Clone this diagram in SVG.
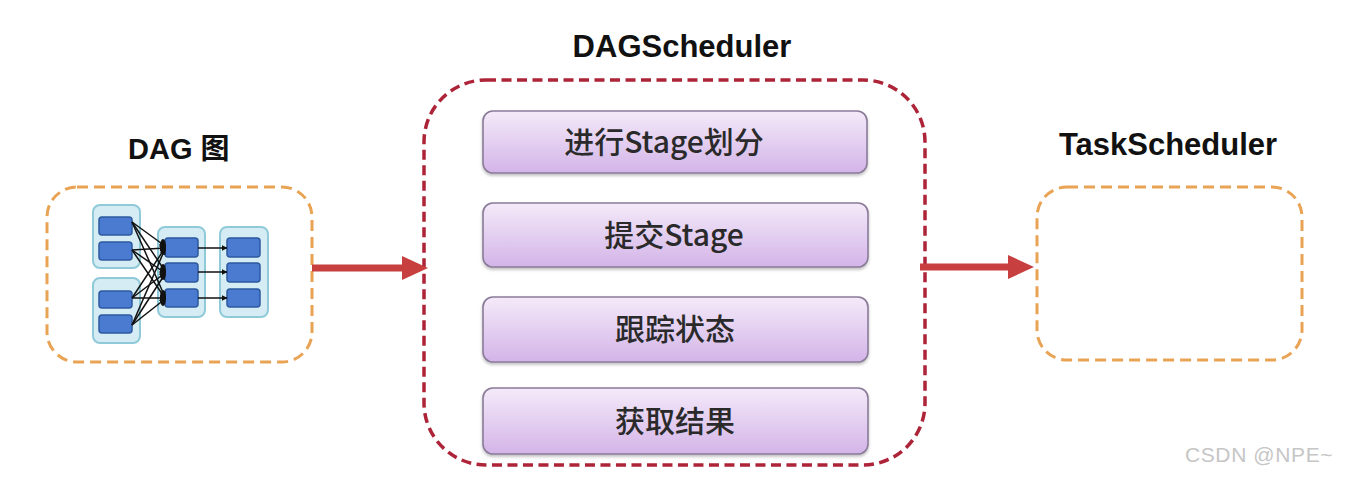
<svg xmlns="http://www.w3.org/2000/svg" width="1346" height="478" viewBox="0 0 1346 478">
<style>
.title{font-family:"Liberation Sans","Noto Sans CJK SC",Arial,sans-serif;font-weight:bold;fill:#111;}
.step{font-family:"Noto Sans CJK SC","Noto Sans",sans-serif;font-weight:500;font-size:30px;fill:#2a2a2a;text-anchor:middle;}
.orange{fill:#fff;stroke:#e9a354;stroke-width:3;stroke-dasharray:11 6;}
.red{fill:#fff;stroke:#ad2338;stroke-width:3.5;stroke-dasharray:10 5.5;}
.stepbox{fill:url(#pg);stroke:#8a7b99;stroke-width:1.6;}
.grp{fill:#d5ecf4;stroke:#8fcad9;stroke-width:2;}
.blk{fill:#4a7bd0;stroke:#2d5a9e;stroke-width:1.5;}
.thin{stroke:#111;stroke-width:1.5;fill:none;}
.big{stroke:#c7403f;stroke-width:7;fill:none;}
.head{fill:#c7403f;}
.wm{font-family:"Liberation Sans",Arial,sans-serif;font-size:21px;fill:#c6c6c6;letter-spacing:0.6px;}
</style>
<defs>
<linearGradient id="pg" x1="0" y1="0" x2="0" y2="1">
<stop offset="0" stop-color="#f4eaf9"/>
<stop offset="1" stop-color="#d3b4e8"/>
</linearGradient>
<marker id="sa" viewBox="0 0 10 10" refX="9" refY="5" markerWidth="6" markerHeight="6" orient="auto" markerUnits="userSpaceOnUse">
<path d="M0,0 L10,5 L0,10 z" fill="#111"/>
</marker>
<filter id="sh" x="-5%" y="-10%" width="110%" height="130%">
<feDropShadow dx="0" dy="2" stdDeviation="1.5" flood-color="#000" flood-opacity="0.25"/>
</filter>
</defs>
<rect width="1346" height="478" fill="#fff"/>

<g id="dag">
<text class="title" x="128" y="159" font-size="29">DAG 图</text>
<rect class="orange" x="47" y="187" width="265" height="175" rx="30"/>
<rect class="grp" x="93" y="205" width="47" height="63" rx="7"/>
<rect class="grp" x="93" y="278" width="47" height="65" rx="7"/>
<rect class="grp" x="158" y="227" width="47" height="90" rx="7"/>
<rect class="grp" x="220" y="227" width="48" height="90" rx="7"/>
<rect class="blk" x="99" y="217" width="33" height="18" rx="3"/>
<rect class="blk" x="99" y="242" width="33" height="18" rx="3"/>
<rect class="blk" x="99" y="291" width="33" height="17" rx="3"/>
<rect class="blk" x="99" y="315" width="33" height="18" rx="3"/>
<rect class="blk" x="165" y="238" width="33" height="19" rx="3"/>
<rect class="blk" x="165" y="263" width="33" height="19" rx="3"/>
<rect class="blk" x="165" y="289" width="33" height="18" rx="3"/>
<rect class="blk" x="227" y="238" width="33" height="19" rx="3"/>
<rect class="blk" x="227" y="263" width="33" height="19" rx="3"/>
<rect class="blk" x="227" y="289" width="33" height="18" rx="3"/>
</g>

<g id="dagscheduler">
<text class="title" x="682" y="57" font-size="31" text-anchor="middle">DAGScheduler</text>
<rect class="red" x="424" y="80" width="501" height="385" rx="62"/>
</g>
<g id="step1">
<rect class="stepbox" x="483" y="111" width="384" height="62" rx="10" filter="url(#sh)"/>
<text class="step" x="664" y="153">进行Stage划分</text>
</g>
<g id="step2">
<rect class="stepbox" x="483" y="203" width="385" height="64" rx="10" filter="url(#sh)"/>
<text class="step" x="674" y="246">提交Stage</text>
</g>
<g id="step3">
<rect class="stepbox" x="483" y="297" width="385" height="65" rx="10" filter="url(#sh)"/>
<text class="step" x="675" y="340">跟踪状态</text>
</g>
<g id="step4">
<rect class="stepbox" x="483" y="388" width="385" height="66" rx="10" filter="url(#sh)"/>
<text class="step" x="675" y="432">获取结果</text>
</g>

<g id="taskscheduler">
<text class="title" x="1168" y="155" font-size="31" text-anchor="middle">TaskScheduler</text>
<rect class="orange" x="1037" y="187" width="265" height="173" rx="30"/>
</g>

<g id="connectors">
<line class="thin" x1="132" y1="222" x2="165" y2="246" marker-end="url(#sa)"/>
<line class="thin" x1="132" y1="222" x2="165" y2="271" marker-end="url(#sa)"/>
<line class="thin" x1="132" y1="222" x2="165" y2="297" marker-end="url(#sa)"/>
<line class="thin" x1="132" y1="250" x2="165" y2="248" marker-end="url(#sa)"/>
<line class="thin" x1="132" y1="250" x2="165" y2="273" marker-end="url(#sa)"/>
<line class="thin" x1="132" y1="250" x2="165" y2="298" marker-end="url(#sa)"/>
<line class="thin" x1="132" y1="298" x2="165" y2="248" marker-end="url(#sa)"/>
<line class="thin" x1="132" y1="298" x2="165" y2="273" marker-end="url(#sa)"/>
<line class="thin" x1="132" y1="298" x2="165" y2="298" marker-end="url(#sa)"/>
<line class="thin" x1="132" y1="325" x2="165" y2="249" marker-end="url(#sa)"/>
<line class="thin" x1="132" y1="325" x2="165" y2="274" marker-end="url(#sa)"/>
<line class="thin" x1="132" y1="325" x2="165" y2="299" marker-end="url(#sa)"/>
<ellipse cx="163" cy="247" rx="3" ry="8" fill="#111"/>
<ellipse cx="163" cy="272" rx="3" ry="8" fill="#111"/>
<ellipse cx="163" cy="298" rx="3" ry="8" fill="#111"/>
<line class="thin" x1="198" y1="248" x2="227" y2="248" marker-end="url(#sa)"/>
<line class="thin" x1="198" y1="272" x2="227" y2="272" marker-end="url(#sa)"/>
<line class="thin" x1="198" y1="298" x2="227" y2="298" marker-end="url(#sa)"/>
<line class="big" x1="312" y1="268" x2="404" y2="268"/>
<polygon class="head" points="402,256 428,268 402,280"/>
<line class="big" x1="920" y1="267" x2="1010" y2="267"/>
<polygon class="head" points="1008,255 1034,267 1008,279"/>
</g>

<text class="wm" x="1185" y="462">CSDN @NPE~</text>
</svg>
